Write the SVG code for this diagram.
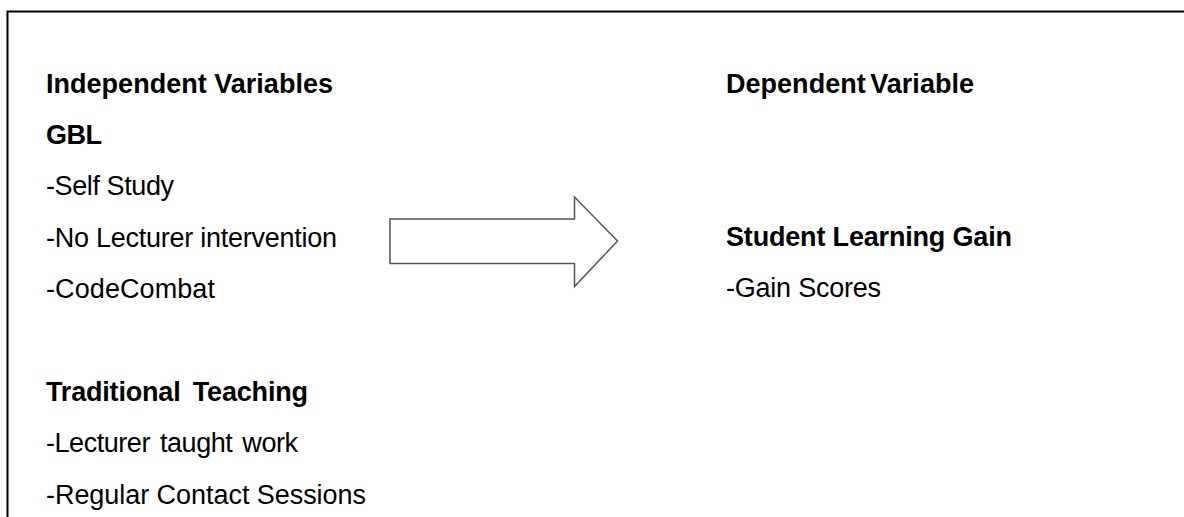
<svg xmlns="http://www.w3.org/2000/svg" width="1184" height="517" viewBox="0 0 1184 517">
<style>
text{font-family:"Liberation Sans",Arial,sans-serif;font-size:27px;fill:#000}
.b{font-weight:bold}
</style>
<rect width="1184" height="517" fill="#fff"/>
<g id="frame"><path d="M7.5 517V11.5H1184" fill="none" stroke="#000" stroke-width="2"/></g>
<g id="independent">
<text class="b" x="46" y="93" textLength="287">Independent Variables</text>
<text class="b" x="46" y="144" textLength="56">GBL</text>
<text x="46" y="195" textLength="128">-Self Study</text>
<text x="46" y="247" textLength="291">-No Lecturer intervention</text>
<text x="46" y="298" textLength="169">-CodeCombat</text>
<text class="b" x="46" y="401" word-spacing="5" textLength="262">Traditional Teaching</text>
<text x="46" y="452" word-spacing="3" textLength="252">-Lecturer taught work</text>
<text x="46" y="504" textLength="320">-Regular Contact Sessions</text>
</g>
<g id="dependent">
<text class="b" x="726" y="93" word-spacing="-3" textLength="248">Dependent Variable</text>
<text class="b" x="726" y="246" textLength="286">Student Learning Gain</text>
<text x="726" y="297" textLength="155">-Gain Scores</text>
</g>
<g id="connectors">
<path d="M390 219H574.5V197L617.5 241L574.5 286.5V263.5H390Z" fill="#fff" stroke="#555" stroke-width="1.5"/>
</g>
</svg>
